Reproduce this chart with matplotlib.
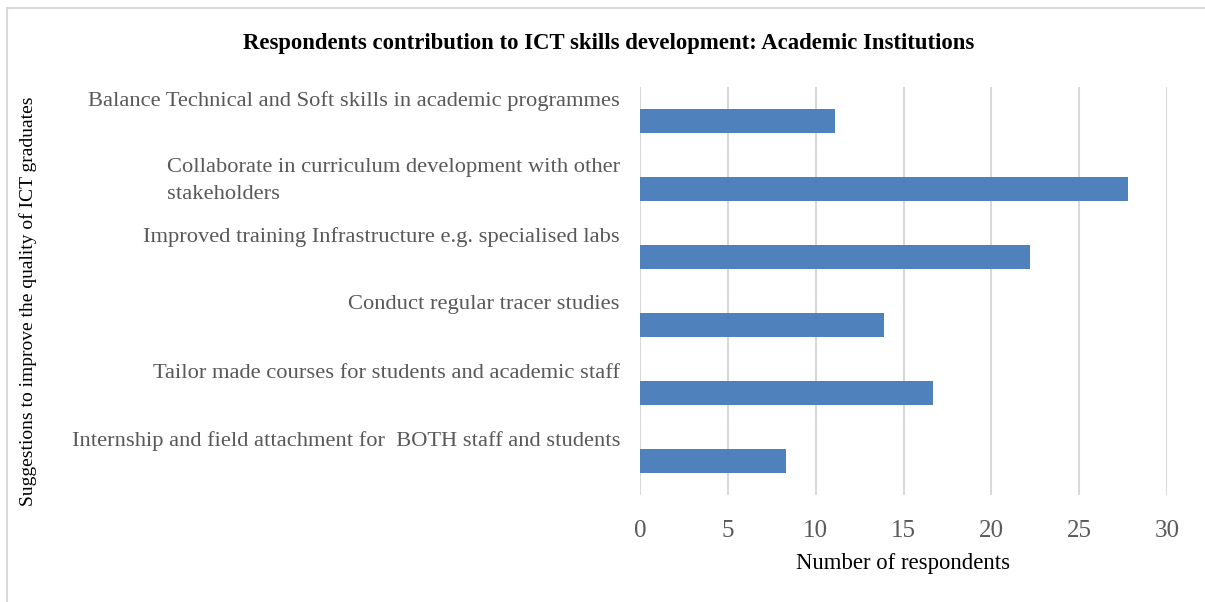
import matplotlib
matplotlib.use("Agg")
import matplotlib.pyplot as plt
from matplotlib.lines import Line2D

categories = [
    "Balance Technical and Soft skills in academic programmes",
    "Collaborate in curriculum development with other\nstakeholders",
    "Improved training Infrastructure e.g. specialised labs",
    "Conduct regular tracer studies",
    "Tailor made courses for students and academic staff",
    "Internship and field attachment for  BOTH staff and students",
]
values = [11.1, 27.8, 22.2, 13.9, 16.7, 8.3]
x_ticks = [0, 5, 10, 15, 20, 25, 30]

title = "Respondents contribution to ICT skills development: Academic Institutions"
x_label = "Number of respondents"
y_label = "Suggestions to improve the quality of ICT graduates"

serif = ["Liberation Serif", "DejaVu Serif"]
plt.rcParams["font.family"] = serif

W, H = 1205, 602
fig = plt.figure(figsize=(W / 100, H / 100), dpi=100)

# plot area in pixel terms
left, right, top, bottom = 640, 1167, 87, 495
ax = fig.add_axes([left / W, 1 - bottom / H, (right - left) / W, (bottom - top) / H])

n = len(categories)
ypos = list(range(n))
ax.barh(ypos, values, height=0.35, color="#4F81BD", zorder=3)
ax.set_ylim(n - 0.5, -0.5)
ax.set_xlim(0, 30)
ax.set_xticks(x_ticks)
ax.set_xticklabels([str(t) for t in x_ticks], fontsize=18, color="#595959")
ax.tick_params(axis="x", length=0, pad=18)
ax.set_yticks([])
ax.grid(axis="x", color="#D9D9D9", linewidth=1.5, zorder=0)
for s in ax.spines.values():
    s.set_visible(False)

# category labels sit just above their bars, right aligned
slot_px = (bottom - top) / n
for i, lab in enumerate(categories):
    nlines = lab.count("\n") + 1
    off_px = -20 + 12 * (nlines - 1)
    ax.text(-20 / ((right - left) / 30), i + off_px / slot_px, lab,
            ha="right", va="center", multialignment="left",
            fontsize=16.2, color="#595959",
            linespacing=1.6, clip_on=False)

ax.set_xlabel(x_label, fontsize=16.4, color="black", labelpad=8)

fig.text(609 / W, 1 - 43 / H, title, ha="center", va="center",
         fontsize=16.4, fontweight="bold", color="black")
fig.text(28 / W, 1 - 301 / H, y_label, ha="center", va="center",
         rotation=90, fontsize=14, color="black")

# outer frame edges
fig.add_artist(Line2D([7 / W, 1], [1 - 8 / H, 1 - 8 / H], transform=fig.transFigure,
                      color="#D9D9D9", linewidth=1.5))
fig.add_artist(Line2D([7 / W, 7 / W], [0, 1 - 8 / H], transform=fig.transFigure,
                      color="#D9D9D9", linewidth=1.5))

fig.savefig("out.png", dpi=100)
